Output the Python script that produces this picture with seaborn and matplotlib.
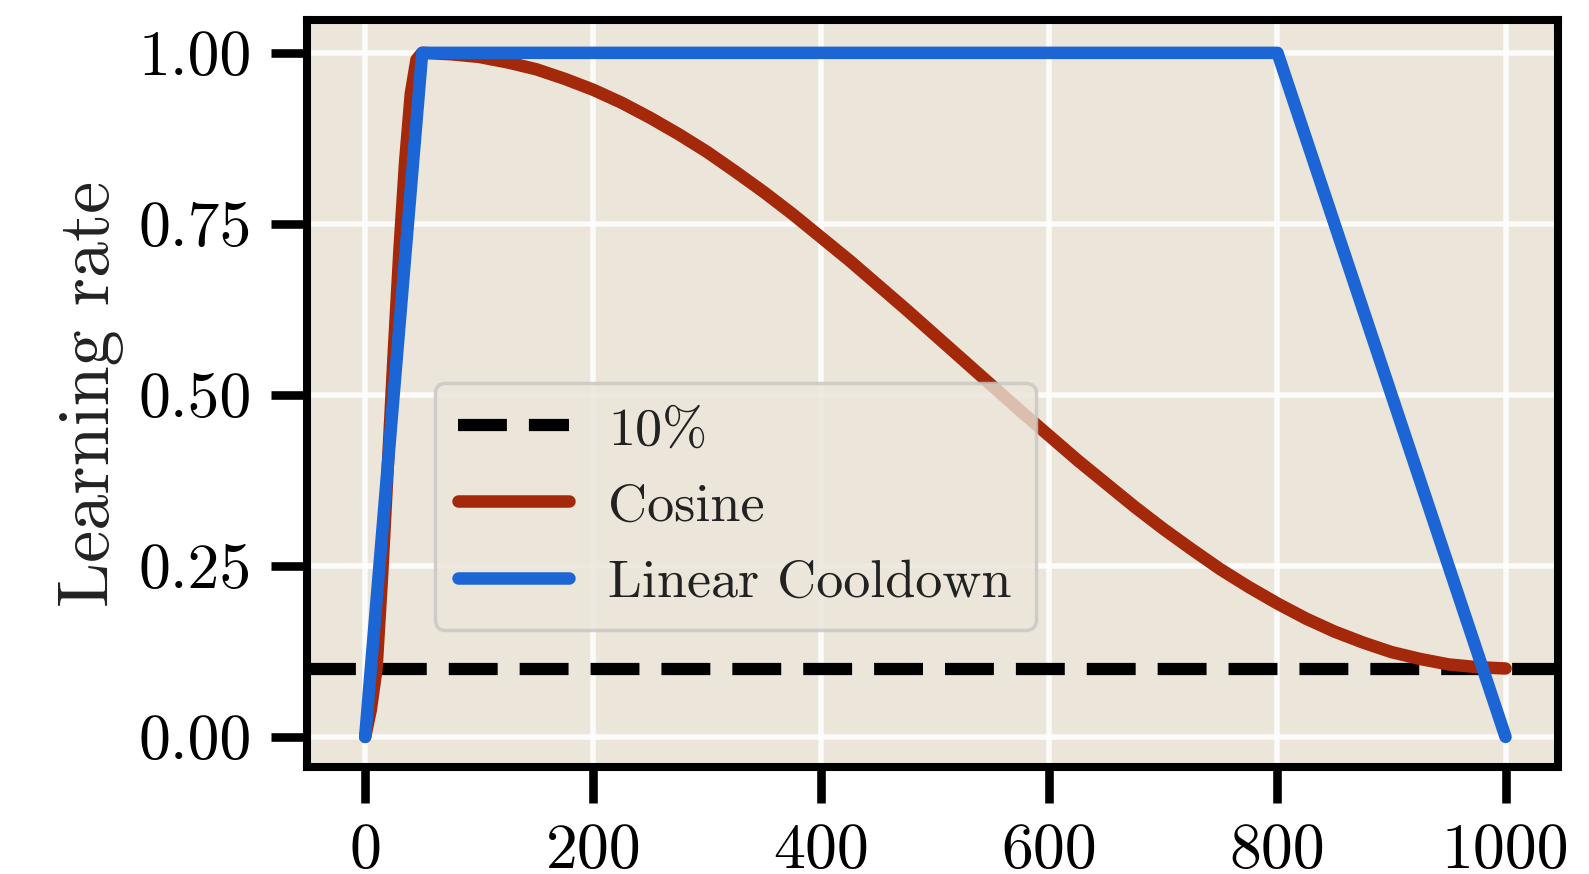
import matplotlib
matplotlib.use("Agg")
import matplotlib.pyplot as plt
import seaborn as sns
import pandas as pd

# Training steps and learning-rate values for each schedule
cosine_steps = [0, 5, 10, 15, 20, 25, 30, 35, 40, 45, 50, 75, 100, 125, 150, 175, 200,
                225, 250, 275, 300, 325, 350, 375, 400, 425, 450, 475, 500, 525, 550,
                575, 600, 625, 650, 675, 700, 725, 750, 775, 800, 825, 850, 875, 900,
                925, 950, 975, 1000]
cosine_lr = [0.0, 0.04, 0.10, 0.24, 0.40, 0.56, 0.71, 0.84, 0.94, 0.99, 1.0, 0.998,
             0.994, 0.986, 0.976, 0.962, 0.946, 0.927, 0.905, 0.881, 0.855, 0.826,
             0.796, 0.764, 0.730, 0.696, 0.660, 0.624, 0.587, 0.550, 0.513, 0.476,
             0.440, 0.404, 0.370, 0.336, 0.304, 0.274, 0.245, 0.219, 0.195, 0.173,
             0.154, 0.138, 0.124, 0.114, 0.106, 0.102, 0.100]

linear_steps = [0, 50, 800, 1000]
linear_lr = [0.0, 1.0, 1.0, 0.0]

floor_level = 0.1
floor_label = "10%"
series_labels = ["Cosine", "Linear Cooldown"]
x_ticks = [0, 200, 400, 600, 800, 1000]
y_ticks = [0.0, 0.25, 0.5, 0.75, 1.0]
y_tick_labels = ["0.00", "0.25", "0.50", "0.75", "1.00"]

sns.set_theme(style="darkgrid")
plt.rcParams.update({
    "font.family": ["cmr10", "DejaVu Serif"],
    "axes.formatter.use_mathtext": True,
    "mathtext.fontset": "cm",
    "lines.solid_capstyle": "round",
    "axes.unicode_minus": False,
})

BG = "#EBE5DA"
RED = "#A4280A"
BLUE = "#1B66D4"
FS = 46
LEG_FS = 39
LW = 9.0

fig = plt.figure(figsize=(15.89, 8.74), dpi=100)
ax = fig.add_axes([0.1932, 0.1224, 0.7873, 0.8547])
ax.set_facecolor(BG)

ax.axhline(floor_level, color="black", lw=8.8, dashes=(4.0, 1.8), label=floor_label, zorder=2)

cos_df = pd.DataFrame({"step": cosine_steps, "lr": cosine_lr})
lin_df = pd.DataFrame({"step": linear_steps, "lr": linear_lr})
sns.lineplot(data=cos_df, x="step", y="lr", ax=ax, color=RED, lw=LW,
             label=series_labels[0], zorder=3, solid_capstyle="round",
             solid_joinstyle="round")
sns.lineplot(data=lin_df, x="step", y="lr", ax=ax, color=BLUE, lw=LW,
             label=series_labels[1], zorder=4, solid_capstyle="round",
             solid_joinstyle="round")

ax.set_xlim(-51, 1046)
ax.set_ylim(-0.044, 1.048)
ax.set_xticks(x_ticks)
ax.set_xticklabels([str(t) for t in x_ticks])
ax.set_yticks(y_ticks)
ax.set_yticklabels(y_tick_labels)
ax.set_xlabel("")
ax.set_ylabel("Learning rate", fontsize=52, color="#222222", labelpad=10)

ax.grid(True, color="white", lw=4.0, alpha=0.85)
ax.set_axisbelow(True)
for sp in ax.spines.values():
    sp.set_visible(True)
    sp.set_color("black")
    sp.set_linewidth(5.8)

ax.tick_params(axis="both", which="major", length=26, width=6.2, color="black",
               labelsize=FS, labelcolor="black", pad=14, direction="out",
               bottom=True, left=True)

leg = ax.legend(loc="lower left", bbox_to_anchor=(0.102, 0.183), borderaxespad=0,
                fontsize=LEG_FS, handlelength=2.05, handletextpad=0.72, labelspacing=0.52,
                borderpad=0.44, frameon=True, fancybox=True, framealpha=0.8)
leg.get_frame().set_facecolor(BG)
leg.get_frame().set_edgecolor("#C8C6C4")
leg.get_frame().set_linewidth(2.5)
for t in leg.get_texts():
    t.set_color("#222222")

fig.savefig("out.png", dpi=100)
